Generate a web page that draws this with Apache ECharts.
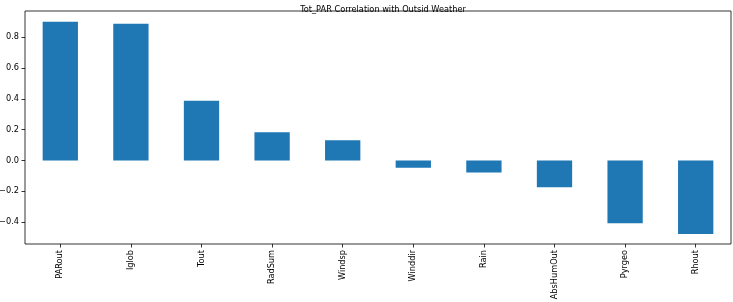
<!DOCTYPE html>
<html>
<head>
<meta charset="utf-8">
<script src="https://cdn.jsdelivr.net/npm/echarts@6/dist/echarts.min.js"></script>
<style>
  html, body { margin: 0; padding: 0; background: #fff; }
  #chart { width: 733px; height: 302px; }
</style>
</head>
<body>
<div id="chart"></div>
<script>
// корреляция Tot_PAR с параметрами наружной погоды
const categories = ['PARout', 'Iglob', 'Tout', 'RadSum', 'Windsp', 'Winddir', 'Rain', 'AbsHumOut', 'Pyrgeo', 'Rhout'];
const corrValues = [0.901, 0.888, 0.388, 0.183, 0.131, -0.047, -0.077, -0.174, -0.408, -0.477];
const yTicks = [-0.4, -0.2, 0.0, 0.2, 0.4, 0.6, 0.8];

const FONT = 'DejaVu Sans';
const FS = 8.2;

const fmt = (v) => v.toFixed(1).replace('-', '\u2212');

const chart = echarts.init(document.getElementById('chart'), null, { renderer: 'canvas' });

chart.setOption({
  animation: false,
  backgroundColor: '#fff',
  title: {
    text: 'Tot_PAR Correlation with Outsid Weather',
    left: 378,
    top: 1,
    textAlign: 'center',
    textStyle: { fontFamily: FONT, fontSize: FS, fontWeight: 'normal', color: '#000' },
  },
  grid: {
    left: 25, right: 2, top: 11, bottom: 58,
    containLabel: false, outerBoundsMode: 'none',
    show: true, borderColor: '#000', borderWidth: 0.8, backgroundColor: 'transparent',
  },
  xAxis: {
    type: 'category',
    data: categories,
    boundaryGap: true,
    axisLine: { show: false, onZero: false },
    axisTick: { show: true, alignWithLabel: true, length: 3.5, lineStyle: { color: '#000', width: 0.8 } },
    axisLabel: {
      rotate: 90, margin: 6, interval: 0,
      fontFamily: FONT, fontSize: FS, color: '#000',
    },
    splitLine: { show: false },
  },
  yAxis: {
    type: 'value',
    min: -0.542,
    max: 0.971,
    axisLine: { show: false },
    axisTick: { show: true, length: 3.5, customValues: yTicks, lineStyle: { color: '#000', width: 0.8 } },
    axisLabel: {
      margin: 6, customValues: yTicks,
      fontFamily: FONT, fontSize: FS, color: '#000',
      formatter: fmt,
    },
    splitLine: { show: false },
  },
  series: [{
    type: 'bar',
    data: corrValues,
    barWidth: '50%',
    itemStyle: { color: '#1f77b4' },
  }],
});
</script>
</body>
</html>
